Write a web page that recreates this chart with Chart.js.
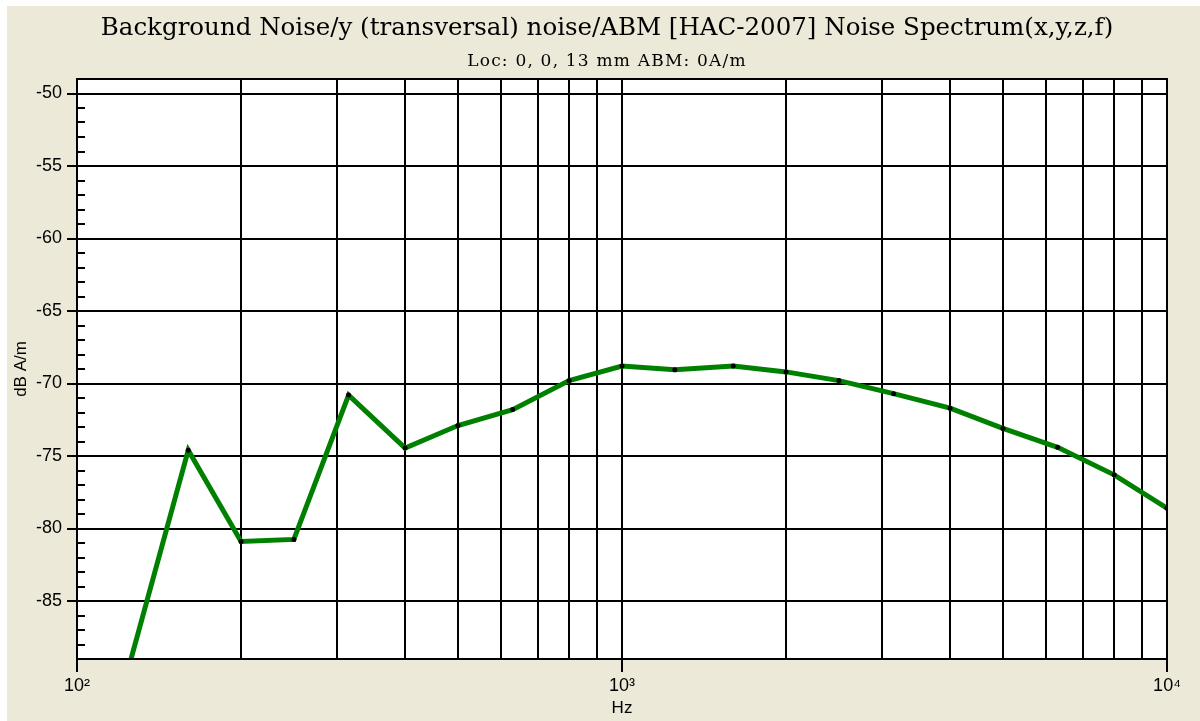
<!DOCTYPE html>
<html>
<head>
<meta charset="utf-8">
<script src="https://cdn.jsdelivr.net/npm/chart.js@4"></script>
<style>
  html, body { margin: 0; padding: 0; background: #fff; }
  #wrap { width: 1200px; height: 721px; }
</style>
</head>
<body>
<div id="wrap"><canvas id="noiseChart" width="1200" height="721"></canvas></div>
<script>
// 1/3 octave band centre frequencies (Hz)
const freqs = [125, 160, 200, 250, 315, 400, 500, 630, 800, 1000, 1250, 1600, 2000, 2500, 3150, 4000, 5000, 6300, 8000, 10000];
// noise level per band (dB A/m)
const noiseDb = [-89.3, -74.6, -80.9, -80.75, -70.8, -74.45, -72.9, -71.8, -69.8, -68.8, -69.05, -68.8, -69.2, -69.8, -70.7, -71.7, -73.1, -74.4, -76.3, -78.6];

// axes
const xGridFreqs = [100, 200, 300, 400, 500, 600, 700, 800, 900, 1000, 2000, 3000, 4000, 5000, 6000, 7000, 8000, 9000, 10000];
const xDecades = [100, 1000, 10000];
const xDecadeLabels = ['10\u00B2', '10\u00B3', '10\u2074'];
const yTicks = [-85, -80, -75, -70, -65, -60, -55, -50];
const yMin = -89, yMax = -49;

const titleText = 'Background Noise/y (transversal) noise/ABM [HAC-2007] Noise Spectrum(x,y,z,f)';
const subTitleText = 'Loc: 0, 0, 13 mm ABM: 0A/m';

// 배경 + 외곽선 + 보조 눈금 + 제목
const framePlugin = {
	id: 'frame',
	beforeDraw(chart) {
		const ctx = chart.ctx;
		const a = chart.chartArea;
		ctx.save();
		ctx.fillStyle = '#fff';
		ctx.fillRect(0, 0, chart.width, chart.height);
		ctx.fillStyle = '#ECE9D8';
		ctx.fillRect(7, 6, chart.width - 7, chart.height - 6);
		ctx.fillStyle = '#fff';
		ctx.fillRect(a.left, a.top, a.right - a.left, a.bottom - a.top);
		ctx.restore();
	},
	afterDraw(chart) {
		const ctx = chart.ctx;
		const a = chart.chartArea;
		const y = chart.scales.y;
		ctx.save();
		// minor ticks on the y axis (inside)
		ctx.strokeStyle = '#000';
		ctx.lineWidth = 2;
		for (let v = yMin; v <= yMax; v++) {
			if (v % 5 === 0) continue;
			const py = Math.round(y.getPixelForValue(v));
			ctx.beginPath();
			ctx.moveTo(a.left, py);
			ctx.lineTo(a.left + 8, py);
			ctx.stroke();
		}
		// plot border
		ctx.strokeRect(a.left, a.top, a.right - a.left, a.bottom - a.top);
		// titles
		ctx.fillStyle = '#000';
		ctx.textAlign = 'center';
		ctx.textBaseline = 'alphabetic';
		ctx.font = '24.5px "DejaVu Serif"';
		ctx.fillText(titleText, 607, 35);
		ctx.font = '17px "DejaVu Serif"';
		ctx.letterSpacing = '1.2px';
		ctx.fillText(subTitleText, 607, 66);
		ctx.restore();
	}
};

new Chart(document.getElementById('noiseChart'), {
	type: 'line',
	data: {
		datasets: [{
			label: 'Noise Spectrum',
			data: freqs.map((f, i) => ({ x: f, y: noiseDb[i] })),
			borderColor: '#008000',
			borderWidth: 5,
			pointRadius: 2.5,
			pointBorderWidth: 0,
			pointBackgroundColor: '#000',
			tension: 0
		}]
	},
	options: {
		responsive: false,
		animation: false,
		layout: { padding: { left: 0, top: 79, right: 33, bottom: 0 } },
		plugins: {
			legend: { display: false },
			tooltip: { enabled: false }
		},
		scales: {
			x: {
				type: 'logarithmic',
				min: 100,
				max: 10000,
				afterBuildTicks: scale => { scale.ticks = xGridFreqs.map(v => ({ value: v })); },
				afterFit: scale => { scale.height = 62; },
				grid: {
					color: '#000',
					lineWidth: 2,
					tickLength: 13,
					tickColor: ctx => (ctx.tick && xDecades.includes(ctx.tick.value)) ? '#000' : 'rgba(0,0,0,0)'
				},
				border: { display: true, color: '#000', width: 2 },
				ticks: {
					autoSkip: false,
					maxRotation: 0,
					padding: 3,
					color: '#000',
					font: { family: '"Liberation Sans", Arial', size: 18 },
					callback: function(value) {
						const i = xDecades.indexOf(value);
						return i >= 0 ? xDecadeLabels[i] : '';
					}
				},
				title: {
					display: true,
					text: 'Hz',
					color: '#000',
					font: { family: '"Liberation Sans", Arial', size: 17 },
					padding: { top: 0, bottom: 2 }
				}
			},
			y: {
				type: 'linear',
				min: yMin,
				max: yMax,
				afterBuildTicks: scale => { scale.ticks = yTicks.map(v => ({ value: v })); },
				afterFit: scale => { scale.width = 77; },
				grid: { color: '#000', lineWidth: 2, tickLength: 10 },
				border: { display: true, color: '#000', width: 2 },
				ticks: {
					padding: 5,
					color: '#000',
					font: { family: '"Liberation Sans", Arial', size: 18 }
				},
				title: {
					display: true,
					text: 'dB A/m',
					color: '#000',
					font: { family: '"Liberation Sans", Arial', size: 17 },
					padding: { top: 11, bottom: 0 }
				}
			}
		}
	},
	plugins: [framePlugin]
});
</script>
</body>
</html>
